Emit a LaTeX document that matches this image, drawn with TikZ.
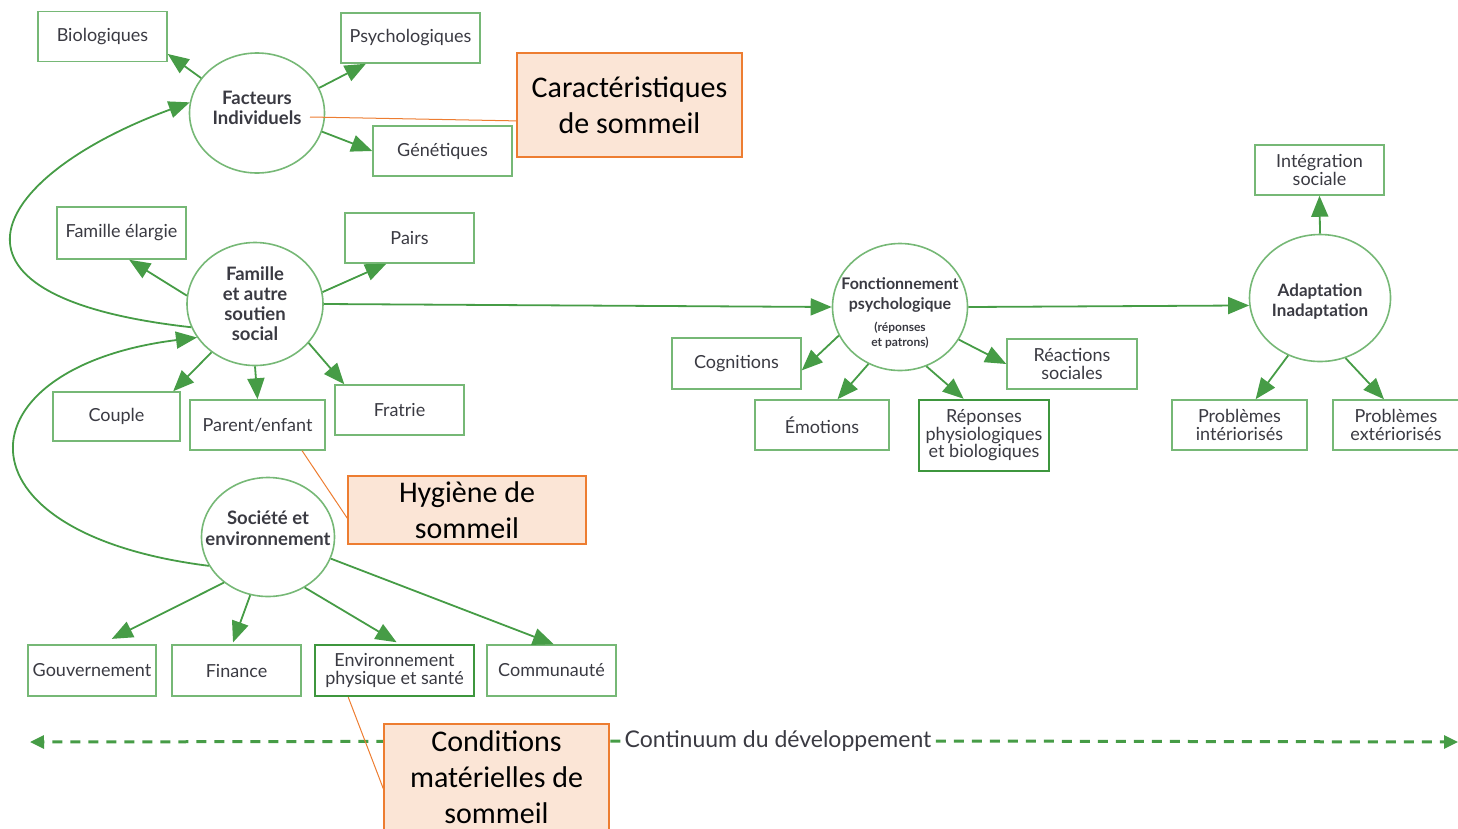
\documentclass[tikz,border=0pt]{standalone}
\usepackage{fontspec}
\setmainfont{Lato}
\newfontfamily\calibfont{Carlito}
\usetikzlibrary{arrows.meta,shapes.geometric}

\definecolor{lgreen}{RGB}{118,184,118}
\definecolor{dgreen}{RGB}{62,150,62}
\definecolor{agreen}{RGB}{70,156,70}
\definecolor{txtgrey}{RGB}{58,58,66}
\definecolor{obox}{RGB}{251,229,214}
\definecolor{oline}{RGB}{237,125,49}

\tikzset{every picture/.style={line width=0.75pt}}
\tikzset{
	cbox/.style={draw=lgreen, line width=1.5pt, minimum width=129pt, minimum height=50pt, inner sep=2pt, align=center, text=txtgrey, font=\fontsize{18}{17.5}\selectfont},
	hbox/.style={cbox, draw=dgreen, line width=2.4pt},
	ring/.style={ellipse, draw=lgreen, line width=1.6pt, inner sep=0pt, align=center, text=txtgrey, font=\bfseries\fontsize{18.5}{20.5}\selectfont},
	arr/.style={draw=agreen, line width=1.8pt, -{Triangle[length=21pt,width=17pt]}},
	note/.style={draw=oline, fill=obox, line width=1.2pt, align=center, font=\calibfont\fontsize{30}{36}\selectfont},
	noteline/.style={draw=oline, line width=1pt},
	dasharr/.style={draw=agreen, line width=3pt, dash pattern=on 10pt off 8pt, -{Triangle[length=14pt,width=13pt]}}
}

\begin{document}
\begin{tikzpicture}[x=1pt,y=1pt,yscale=-1,xscale=1]
	\clip (0,0) rectangle (1458,828);

	%Shape: Ellipses
	\node[ring, minimum width=135pt, minimum height=120pt] (fact) at (257,113) {Facteurs\\Individuels\rule[-10pt]{0pt}{10pt}};
	\node[ring, minimum width=136pt, minimum height=123pt, font=\bfseries\fontsize{18.5}{20}\selectfont] (fam) at (255,304) {Famille\\et autre\\soutien\\social};
	\node[ring, minimum width=133pt, minimum height=119pt, inner xsep=-24pt] (soc) at (268,537) {Société et\\environnement\rule[-18pt]{0pt}{18pt}};
	\node[ring, minimum width=135pt, minimum height=127pt, inner xsep=-18pt, font=\bfseries\fontsize{16}{20}\selectfont] (fonc) at (900,307) {\rule{0pt}{24pt}Fonctionnement\\psychologique\\[2pt]{\fontsize{12}{14}\selectfont(réponses}\\[-5pt]{\fontsize{12}{14}\selectfont et patrons)}};
	\node[ring, minimum width=141pt, minimum height=127pt, inner xsep=-6pt, font=\bfseries\fontsize{17}{20}\selectfont] (adapt) at (1320,298) {\rule{0pt}{20.5pt}Adaptation\\Inadaptation};

	%Shape: Boxes
	\node[cbox] (bio) at (102.5,36.5) {Biologiques};
	\node[cbox, minimum width=139pt] (psy) at (410.5,38) {Psychologiques};
	\node[cbox, minimum width=139pt] (gen) at (442.5,151) {Génétiques};
	\node[cbox, minimum height=52pt] (felarg) at (121.5,233) {Famille élargie};
	\node[cbox] (pairs) at (409.5,238) {Pairs};
	\node[cbox, minimum width=127pt, minimum height=49pt] (couple) at (116.5,416.5) {Couple};
	\node[cbox, minimum width=135pt] (parent) at (257.5,425) {Parent/enfant};
	\node[cbox] (fratrie) at (399.5,410) {Fratrie};
	\node[cbox, minimum width=128pt, minimum height=51pt] (gouv) at (92,670.5) {Gouvernement};
	\node[cbox, minimum height=51pt] (fin) at (236.5,670.5) {Finance};
	\node[hbox, minimum width=159pt, minimum height=51pt] (env) at (394.5,670.5) {Environnement\\physique et santé};
	\node[cbox, minimum height=51pt] (comm) at (551.5,670.5) {Communauté};
	\node[cbox, minimum height=51pt] (cogn) at (736.5,363.5) {Cognitions};
	\node[cbox, minimum width=134pt] (emo) at (822,425) {Émotions};
	\node[hbox, minimum width=130pt, minimum height=71pt] (rep) at (984,435.5) {Réponses\\physiologiques\\et biologiques};
	\node[cbox, minimum width=130pt] (react) at (1072,364) {Réactions\\sociales};
	\node[cbox] (integ) at (1319.5,170) {Intégration\\sociale};
	\node[cbox, minimum width=135pt] (pint) at (1239.5,425) {Problèmes\\intériorisés};
	\node[cbox, minimum width=126pt] (pext) at (1396,425) {Problèmes\\extériorisés};

	%Straight Lines: Facteurs
	\draw[arr] (fact.148) -- (bio.-15);
	\draw[arr] (fact.22) -- (psy.210);
	\draw[arr] (fact.-16) -- (gen.180);
	%Straight Lines: Famille
	\draw[arr] (fam.173) -- (felarg.-74);
	\draw[arr] (fam.10) -- (pairs.-132);
	\draw[arr] (fam.-132) -- (couple.24);
	\draw[arr] (fam.south) -- (parent.north);
	\draw[arr] (fam.-36) -- (fratrie.155);
	\draw[arr] (fam.east) -- (fonc.west);
	%Straight Lines: Societe
	\draw[arr, shorten >=12pt] (soc.-134) -- (gouv.71);
	\draw[arr, shorten >=2pt] (soc.-107) -- (fin.99);
	\draw[arr, shorten >=3pt] (soc.-54) -- (env.80);
	\draw[arr] (soc.-19) -- (comm.85);
	%Straight Lines: Fonctionnement
	\draw[arr] (fonc.205) -- (cogn.-6);
	\draw[arr] (fonc.-119) -- (emo.59);
	\draw[arr] (fonc.-66) -- (rep.119);
	\draw[arr] (fonc.-29) -- (react.180);
	\draw[arr] (fonc.east) -- (adapt.186);
	%Straight Lines: Adaptation
	\draw[arr] (adapt.north) -- (integ.south);
	\draw[arr] (adapt.-119) -- (pint.58);
	\draw[arr] (adapt.-67) -- (pext.115);

	%Curve Lines
	\draw[arr] (fam.200) .. controls (-89,296) and (-3,173) .. (fact.171);
	\draw[arr] (soc.206) .. controls (-54,533) and (-40,367) .. (fam.210);

	%Dashed line
	\node[text=txtgrey, font=\fontsize{23}{26}\selectfont, inner sep=4pt] (cont) at (778,741) {Continuum du développement};
	\coordinate (leftend) at (30,742);
	\coordinate (rightend) at (1458,742);
	\draw[dasharr] (cont.west) -- (leftend);
	\draw[dasharr] (cont.east) -- (rightend);

	%Sleep notes
	\coordinate (factnote) at (310,117);
	\node[note, minimum width=225pt, minimum height=104pt] (carac) at (629.5,105) {Caractéristiques\\de sommeil};
	\node[note, minimum width=238pt, minimum height=68pt] (hyg) at (467,510) {Hygiène de\\sommeil};
	\node[note, minimum width=225pt, minimum height=106pt] (cond) at (496.5,777) {Conditions\\matérielles de\\sommeil};
	\draw[noteline] (factnote) -- (carac.188);
	\draw[noteline] (parent.-30) -- (hyg.184);
	\draw[noteline] (env.-150) -- (cond.186);

\end{tikzpicture}
\end{document}
